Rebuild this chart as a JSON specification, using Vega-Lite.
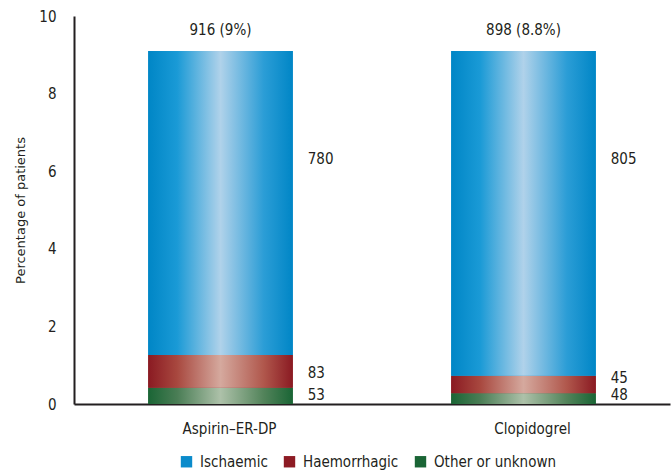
{
  "$schema": "https://vega.github.io/schema/vega-lite/v6.json",
  "autosize": "none",
  "width": 596,
  "height": 388,
  "padding": {"left": 74, "top": 16, "right": 2, "bottom": 67},
  "background": "white",
  "config": {
    "view": {"stroke": null},
    "font": "DejaVu Sans Condensed",
    "text": {"font": "DejaVu Sans Condensed", "fontSize": 15, "fill": "#231f20"}
  },
  "data": {
    "values": [
      {"drug": "Aspirin–ER-DP", "type": "Other or unknown", "order": 1, "value": 0.42, "n": "53", "total": ""},
      {"drug": "Aspirin–ER-DP", "type": "Haemorrhagic", "order": 2, "value": 0.84, "n": "83", "total": ""},
      {"drug": "Aspirin–ER-DP", "type": "Ischaemic", "order": 3, "value": 7.84, "n": "780", "total": "916 (9%)"},
      {"drug": "Clopidogrel", "type": "Other or unknown", "order": 1, "value": 0.28, "n": "48", "total": ""},
      {"drug": "Clopidogrel", "type": "Haemorrhagic", "order": 2, "value": 0.45, "n": "45", "total": ""},
      {"drug": "Clopidogrel", "type": "Ischaemic", "order": 3, "value": 8.37, "n": "805", "total": "898 (8.8%)"}
    ]
  },
  "transform": [
    {"stack": "value", "groupby": ["drug"], "sort": [{"field": "order", "order": "ascending"}], "as": ["y0", "y1"]}
  ],
  "encoding": {
    "x": {
      "field": "drug",
      "type": "nominal",
      "sort": null,
      "scale": {"paddingInner": 0.523, "paddingOuter": 0.245},
      "axis": {
        "title": null,
        "labelAngle": 0,
        "ticks": false,
        "labelFontSize": 15,
        "labelFont": "DejaVu Sans Condensed",
        "labelColor": "#231f20",
        "labelPadding": 17,
        "labelOffset": 9,
        "domainColor": "#231f20",
        "domainWidth": 2
      }
    }
  },
  "layer": [
    {
      "mark": {"type": "bar"},
      "encoding": {
        "y": {
          "field": "y0",
          "type": "quantitative",
          "scale": {"domain": [0, 10], "nice": false},
          "axis": {
            "title": "Percentage of patients",
            "titleFont": "DejaVu Sans",
            "titleFontSize": 13,
            "titleFontWeight": "normal",
            "titleColor": "#231f20",
            "titlePadding": 11,
            "values": [0, 2, 4, 6, 8, 10],
            "ticks": false,
            "grid": false,
            "labelFontSize": 15,
            "labelFont": "DejaVu Sans Condensed",
            "labelColor": "#231f20",
            "labelPadding": 18,
            "domainColor": "#231f20",
            "domainWidth": 2
          }
        },
        "y2": {"field": "y1"},
        "color": {
          "field": "type",
          "type": "nominal",
          "scale": {
            "domain": ["Ischaemic", "Haemorrhagic", "Other or unknown"],
            "range": ["#0a8bcb", "#8d1b24", "#1a6535"]
          },
          "legend": {
            "title": null,
            "orient": "none",
            "legendX": 105,
            "legendY": 438,
            "direction": "horizontal",
            "symbolType": "square",
            "symbolSize": 130,
            "symbolStrokeWidth": 0,
            "symbolOpacity": 1,
            "labelFont": "DejaVu Sans Condensed",
            "labelFontSize": 15,
            "labelColor": "#231f20",
            "labelOffset": 6,
            "columnPadding": 14
          }
        }
      }
    },
    {
      "mark": {"type": "bar"},
      "encoding": {
        "y": {"field": "y0", "type": "quantitative"},
        "y2": {"field": "y1"},
        "fill": {
          "condition": [
            {
              "test": "datum.type === 'Ischaemic'",
              "value": {
                "gradient": "linear",
                "x1": 0, "y1": 0, "x2": 1, "y2": 0,
                "stops": [
                  {"offset": 0, "color": "#0086c6"},
                  {"offset": 0.2, "color": "#1a9ad6"},
                  {"offset": 0.5, "color": "#b0d2ea"},
                  {"offset": 0.8, "color": "#2b9dd6"},
                  {"offset": 1, "color": "#0086c6"}
                ]
              }
            },
            {
              "test": "datum.type === 'Haemorrhagic'",
              "value": {
                "gradient": "linear",
                "x1": 0, "y1": 0, "x2": 1, "y2": 0,
                "stops": [
                  {"offset": 0, "color": "#8a1a22"},
                  {"offset": 0.2, "color": "#a8483f"},
                  {"offset": 0.5, "color": "#d5a99e"},
                  {"offset": 0.8, "color": "#b0574c"},
                  {"offset": 1, "color": "#8a1a22"}
                ]
              }
            }
          ],
          "value": {
            "gradient": "linear",
            "x1": 0, "y1": 0, "x2": 1, "y2": 0,
            "stops": [
              {"offset": 0, "color": "#1a6535"},
              {"offset": 0.2, "color": "#4a7d55"},
              {"offset": 0.5, "color": "#adc1a9"},
              {"offset": 0.8, "color": "#52835a"},
              {"offset": 1, "color": "#1a6535"}
            ]
          }
        }
      }
    },
    {
      "transform": [{"filter": "datum.type === 'Ischaemic'"}],
      "mark": {"type": "text", "align": "left", "baseline": "middle", "dx": 15, "dy": 108},
      "encoding": {
        "x": {"field": "drug", "type": "nominal", "sort": null, "bandPosition": 1},
        "y": {"field": "y1", "type": "quantitative"},
        "text": {"field": "n"}
      }
    },
    {
      "transform": [{"filter": "datum.type === 'Haemorrhagic'"}],
      "mark": {"type": "text", "align": "left", "baseline": "middle", "dx": 15, "dy": -15},
      "encoding": {
        "x": {"field": "drug", "type": "nominal", "sort": null, "bandPosition": 1},
        "y": {"field": "y0", "type": "quantitative"},
        "text": {"field": "n"}
      }
    },
    {
      "transform": [{"filter": "datum.type === 'Other or unknown'"}],
      "mark": {"type": "text", "align": "left", "baseline": "middle", "dx": 15, "dy": -9},
      "encoding": {
        "x": {"field": "drug", "type": "nominal", "sort": null, "bandPosition": 1},
        "y": {"field": "y0", "type": "quantitative"},
        "text": {"field": "n"}
      }
    },
    {
      "transform": [{"filter": "datum.type === 'Ischaemic'"}],
      "mark": {"type": "text", "align": "center", "baseline": "middle", "dy": -21},
      "encoding": {
        "y": {"field": "y1", "type": "quantitative"},
        "text": {"field": "total"}
      }
    }
  ]
}
